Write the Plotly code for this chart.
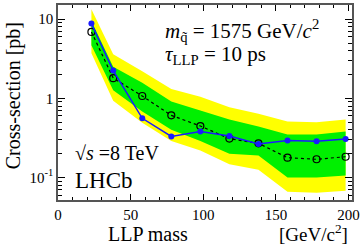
import plotly.graph_objects as go

mass = [23, 38, 58, 78, 98, 118, 138, 158, 178, 198]
observed = [8.8, 2.24, 0.56, 0.33, 0.38, 0.335, 0.266, 0.293, 0.288, 0.307]
expected = [6.9, 1.8, 1.07, 0.61, 0.447, 0.31, 0.27, 0.178, 0.17, 0.183]
band1_up = [9.5, 2.5, 1.57, 0.91, 0.70, 0.54, 0.44, 0.35, 0.35, 0.38]
band1_lo = [4.7, 1.27, 0.68, 0.40, 0.29, 0.20, 0.19, 0.10, 0.10, 0.106]
band2_up = [13.3, 3.6, 2.2, 1.31, 1.05, 0.77, 0.64, 0.51, 0.50, 0.54]
band2_lo = [3.7, 0.93, 0.49, 0.29, 0.22, 0.147, 0.125, 0.066, 0.064, 0.068]

ytickvals = [0.1, 1, 10]
yticktext = ["10<sup>-1</sup>", "1", "10"]
yminor = [k * 10 ** e for e in (-2, -1, 0, 1) for k in range(2, 10)]

SERIF = "Liberation Serif"

fig = go.Figure()
fig.add_trace(go.Scatter(x=mass + mass[::-1], y=band2_up + band2_lo[::-1],
                         fill="toself", fillcolor="#ffff00", line=dict(width=0),
                         mode="lines", hoverinfo="skip", showlegend=False))
fig.add_trace(go.Scatter(x=mass + mass[::-1], y=band1_up + band1_lo[::-1],
                         fill="toself", fillcolor="#00f000", line=dict(width=0),
                         mode="lines", hoverinfo="skip", showlegend=False))
fig.add_trace(go.Scatter(x=mass, y=expected, mode="lines+markers",
                         line=dict(color="black", width=1.2, dash="dot"),
                         marker=dict(symbol="circle-open", size=7, color="black",
                                     line=dict(width=1.2)),
                         showlegend=False))
fig.add_trace(go.Scatter(x=mass, y=observed, mode="lines+markers",
                         line=dict(color="#1a1aff", width=1.5),
                         marker=dict(symbol="circle", size=6, color="#1a1aff"),
                         showlegend=False))

axcommon = dict(showline=True, linecolor="#555555", linewidth=1.5, mirror="ticks",
                ticks="inside", tickcolor="black", showgrid=False, zeroline=False,
                tickfont=dict(family=SERIF, size=15, color="black"))

fig.update_xaxes(range=[0, 202.4], tickvals=[0, 50, 100, 150, 200], ticklen=6,
                 minor=dict(ticks="inside", dtick=10, ticklen=3, tickcolor="black"),
                 **axcommon)
fig.update_yaxes(type="log", range=[-1.284, 1.179], tickvals=ytickvals,
                 ticktext=yticktext, ticklen=7,
                 minor=dict(ticks="inside", tickvals=yminor, ticklen=4, tickcolor="black"),
                 **axcommon)

ann = [
    dict(x=163, y=29, text="<i>m</i><sub>q̃</sub> = 1575 GeV/<i>c</i><sup>2</sup>", size=21),
    dict(x=163, y=54, text="<i>τ</i><sub>LLP</sub> = 10 ps", size=21),
    dict(x=73, y=153, text="√<i>s</i> =8 TeV", size=20),
    dict(x=73, y=180, text="LHCb", size=23),
    dict(x=106, y=234, text="LLP mass", size=20),
    dict(x=278, y=233, text="[GeV/c<sup>2</sup>]", size=19),
]
for a in ann:
    fig.add_annotation(xref="paper", yref="paper",
                       x=(a["x"] - 58) / 295, y=1 - (a["y"] - 3) / 197,
                       xanchor="left", yanchor="middle", showarrow=False,
                       text=a["text"], font=dict(family=SERIF, size=a["size"], color="black"))
fig.add_annotation(xref="paper", yref="paper", x=(13 - 58) / 295, y=1 - (95 - 3) / 197,
                   xanchor="center", yanchor="middle", showarrow=False, textangle=-90,
                   text="Cross-section [pb]", font=dict(family=SERIF, size=20, color="black"))

fig.update_layout(width=363, height=246, margin=dict(l=58, r=10, t=3, b=46),
                  plot_bgcolor="white", paper_bgcolor="white",
                  font=dict(family=SERIF))
fig.write_html("out.html", config={"displayModeBar": False},
               post_script="document.body.style.margin='0';")
